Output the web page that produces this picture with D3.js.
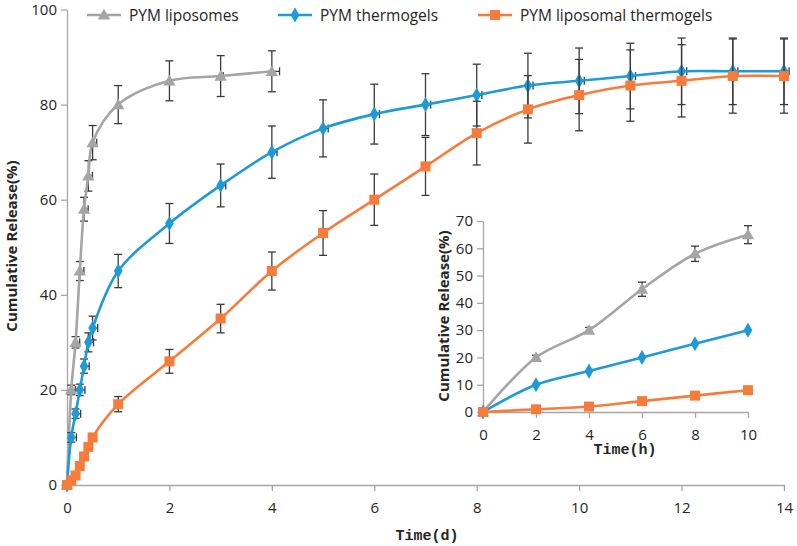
<!DOCTYPE html>
<html><head><meta charset="utf-8">
<script src="https://cdn.jsdelivr.net/npm/d3@7"></script>
<style>
body{margin:0;background:#fff;}
svg{display:block;font-family:"Open Sans",sans-serif;}
</style></head><body>
<svg id="chart" width="797" height="546"></svg>
<script>
// ---- data (main chart, time in days) ----
const seriesNames = ["PYM liposomes", "PYM thermogels", "PYM liposomal thermogels"];
const lipoT  = [0, 0.083, 0.167, 0.25, 0.333, 0.417, 0.5, 1, 2, 3, 4];
const lipoV  = [0, 20, 30, 45, 58, 65, 72, 80, 85, 86, 87];
const lipoE  = [0, 1, 1.2, 2, 2.5, 3.2, 3.6, 4, 4.2, 4.3, 4.3];
const lipoXE = [0, 0.08, 0.08, 0.08, 0.08, 0.08, 0.08, 0, 0, 0.05, 0.15];

const thermoT  = [0, 0.083, 0.167, 0.25, 0.333, 0.417, 0.5, 1, 2, 3, 4, 5, 6, 7, 8, 9, 10, 11, 12, 13, 14];
const thermoV  = [0, 10, 15, 20, 25, 30, 33, 45, 55, 63, 70, 75, 78, 80, 82, 84, 85, 86, 87, 87, 87];
const thermoE  = [0, 1, 1, 1.2, 1.5, 2, 2.5, 3.5, 4.2, 4.5, 5.5, 6, 6.3, 6.5, 6.5, 6.8, 6.9, 6.9, 7, 7, 7];
const thermoXE = [0, 0.1, 0.1, 0.1, 0.1, 0.1, 0.1, 0, 0, 0.1, 0.1, 0.1, 0.1, 0.1, 0.1, 0.1, 0.1, 0.1, 0.1, 0.1, 0.1];

const lgT  = [0, 0.083, 0.167, 0.25, 0.333, 0.417, 0.5, 1, 2, 3, 4, 5, 6, 7, 8, 9, 10, 11, 12, 13, 14];
const lgV  = [0, 1, 2, 4, 6, 8, 10, 17, 26, 35, 45, 53, 60, 67, 74, 79, 82, 84, 85, 86, 86];
const lgE  = [0, 0, 0, 0, 0, 0, 0, 1.6, 2.5, 3, 4, 4.7, 5.4, 6.1, 6.7, 7.1, 7.5, 7.5, 7.6, 7.8, 7.8];

const mainXTicks = [0, 2, 4, 6, 8, 10, 12, 14];
const mainYTicks = [0, 20, 40, 60, 80, 100];

// ---- inset data (time in hours) ----
const insetT = [0, 2, 4, 6, 8, 10];
const insetLipo = [0, 20, 30, 45, 58, 65];
const insetLipoE = [0, 0.8, 1, 2.6, 2.8, 3.3];
const insetThermo = [0, 10, 15, 20, 25, 30];
const insetLG = [0, 1, 2, 4, 6, 8];
const insetXTicks = [0, 2, 4, 6, 8, 10];
const insetYTicks = [0, 10, 20, 30, 40, 50, 60, 70];

const colors = ["#a5a5a5", "#1e9ad6", "#f77b3b"];
const shapes = [d3.symbolTriangle, d3.symbolDiamond, d3.symbolSquare];
const symSize = [66, 66, 100];
const axisColor = "#a6a6a6";
const textColor = "#262626";
const errColor = "#3a3a3a";

const svg = d3.select("#chart");

function styleAxis(g) {
  g.select(".domain").attr("stroke", axisColor).attr("stroke-width", 1.3);
  g.selectAll(".tick line").attr("stroke", axisColor).attr("stroke-width", 1.3);
  g.selectAll(".tick text").attr("fill", textColor).style("font-size", "15px").style("font-family", "Open Sans");
}

function drawPanel(opts) {
  const {x, y, series, xTicks, yTicks, g} = opts;
  g.append("g").attr("transform", `translate(0,${y.range()[0]})`)
    .call(d3.axisBottom(x).tickValues(xTicks).tickSize(6).tickSizeOuter(0).tickPadding(11).tickFormat(d3.format("d")))
    .call(styleAxis);
  g.append("g").attr("transform", `translate(${x.range()[0]},0)`)
    .call(d3.axisLeft(y).tickValues(yTicks).tickSize(6).tickSizeOuter(0).tickPadding(4).tickFormat(d3.format("d")))
    .call(styleAxis);

  series.forEach((s, i) => {
    const pts = s.t.map((t, k) => ({t, v: s.v[k], e: s.e ? s.e[k] : 0, xe: s.xe ? s.xe[k] : 0}));
    const sg = g.append("g");
    // error bars
    const eb = sg.append("g").attr("stroke", errColor).attr("stroke-width", 1.3).attr("fill", "none");
    pts.filter(p => p.e > 0).forEach(p => {
      const cx = x(p.t), y1 = y(p.v + p.e), y2 = y(p.v - p.e);
      eb.append("line").attr("x1", cx).attr("x2", cx).attr("y1", y1).attr("y2", y2);
      eb.append("line").attr("x1", cx - 4).attr("x2", cx + 4).attr("y1", y1).attr("y2", y1);
      eb.append("line").attr("x1", cx - 4).attr("x2", cx + 4).attr("y1", y2).attr("y2", y2);
    });
    pts.filter(p => p.xe > 0).forEach(p => {
      const cy = y(p.v), x1 = x(p.t), x2 = x(p.t + p.xe);
      eb.append("line").attr("x1", x1).attr("x2", x2).attr("y1", cy).attr("y2", cy);
      eb.append("line").attr("x1", x2).attr("x2", x2).attr("y1", cy - 4).attr("y2", cy + 4);
    });
    const line = d3.line().x(p => x(p.t)).y(p => y(p.v)).curve(d3.curveCatmullRom.alpha(0.5));
    sg.append("path").datum(pts).attr("d", line).attr("fill", "none")
      .attr("stroke", colors[i]).attr("stroke-width", 2.6);
    sg.selectAll("path.m").data(pts).join("path").attr("class", "m")
      .attr("d", d3.symbol(shapes[i], symSize[i]))
      .attr("transform", p => `translate(${x(p.t)},${y(p.v) + (i === 0 ? 1 : 0)})`)
      .attr("fill", colors[i]);
  });
}

// ---- main chart ----
const xMain = d3.scaleLinear().domain([0, 14]).range([67, 784]);
const yMain = d3.scaleLinear().domain([0, 100]).range([485, 9.5]);
drawPanel({
  g: svg.append("g"), x: xMain, y: yMain, xTicks: mainXTicks, yTicks: mainYTicks,
  series: [
    {t: lipoT, v: lipoV, e: lipoE, xe: lipoXE},
    {t: thermoT, v: thermoV, e: thermoE, xe: thermoXE},
    {t: lgT, v: lgV, e: lgE}
  ]
});
svg.append("text").attr("x", 427).attr("y", 540).attr("text-anchor", "middle")
  .style("font-family", "Liberation Mono").style("font-weight", "bold").style("font-size", "15px")
  .attr("fill", textColor).text("Time(d)");
svg.append("text").attr("transform", "translate(17,246) rotate(-90)").attr("text-anchor", "middle")
  .style("font-weight", "bold").style("font-size", "15px").attr("fill", textColor).text("Cumulative Release(%)");

// ---- inset ----
const xIn = d3.scaleLinear().domain([0, 10]).range([483, 748]);
const yIn = d3.scaleLinear().domain([0, 70]).range([412, 221]);
drawPanel({
  g: svg.append("g"), x: xIn, y: yIn, xTicks: insetXTicks, yTicks: insetYTicks,
  series: [
    {t: insetT, v: insetLipo, e: insetLipoE},
    {t: insetT, v: insetThermo},
    {t: insetT, v: insetLG}
  ]
});
svg.append("text").attr("x", 625).attr("y", 454).attr("text-anchor", "middle")
  .style("font-family", "Liberation Mono").style("font-weight", "bold").style("font-size", "15px")
  .attr("fill", textColor).text("Time(h)");
svg.append("text").attr("transform", "translate(449,316) rotate(-90)").attr("text-anchor", "middle")
  .style("font-weight", "bold").style("font-size", "15px").attr("fill", textColor).text("Cumulative Release(%)");

// ---- legend ----
const legendX = [87, 278, 478];
const lg = svg.append("g");
seriesNames.forEach((name, i) => {
  const x0 = legendX[i], yy = 15;
  lg.append("line").attr("x1", x0).attr("x2", x0 + 34).attr("y1", yy).attr("y2", yy)
    .attr("stroke", colors[i]).attr("stroke-width", 2.6);
  lg.append("path").attr("d", d3.symbol(shapes[i], symSize[i])).attr("fill", colors[i])
    .attr("transform", `translate(${x0 + 17},${yy + (i === 0 ? 1 : 0)})`);
  lg.append("text").attr("x", x0 + 42).attr("y", yy + 5.5).style("font-size", "15.5px")
    .attr("fill", textColor).text(name);
});
</script>
</body></html>
